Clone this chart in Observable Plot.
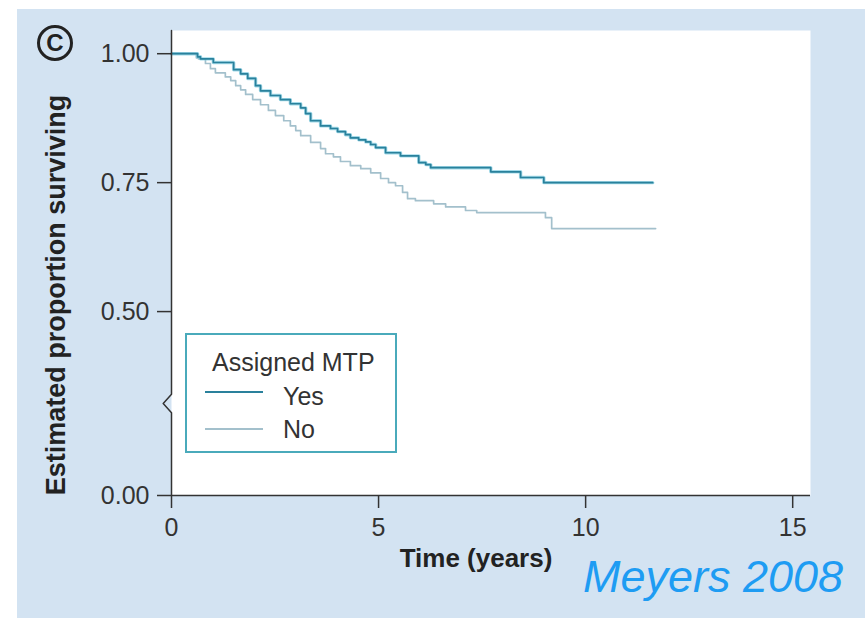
<!DOCTYPE html>
<html><head><meta charset="utf-8">
<script src="https://cdn.jsdelivr.net/npm/d3@7"></script>
<script src="https://cdn.jsdelivr.net/npm/@observablehq/plot@0.6"></script>
<style>
body{margin:0;background:#fff;font-family:"Liberation Sans",Arial,Helvetica,sans-serif;}
#wrap{position:absolute;left:17px;top:9px;width:848px;height:609px;background:#d3e3f2;overflow:hidden;}
#chart{position:absolute;left:0;top:0;}
#badge{position:absolute;left:20px;top:16px;width:30px;height:30px;border:3px solid #222;border-radius:50%;
  font-weight:bold;font-size:24px;line-height:30px;text-align:center;color:#222;}
#legend{position:absolute;left:168px;top:324px;width:212px;height:120px;box-sizing:border-box;border:2px solid #4aaabb;background:#fff;color:#333;font-size:25px;}
#legend .t{position:absolute;white-space:nowrap;line-height:25px;}
#legend .sw{position:absolute;height:0;width:58px;}
#credit{position:absolute;left:566px;top:545px;font-size:45px;line-height:45px;font-style:italic;color:#1e9cf3;white-space:nowrap;}
</style></head><body>
<div id="wrap">
  <div id="chart"></div>
  <div id="badge">C</div>
  <div id="legend"></div>
  <div id="credit"></div>
</div>
<script>
// ---- data ----
const seriesNames = ["Yes", "No"];
const legendTitle = "Assigned MTP";
const yesTime = [0, 0.63, 0.70, 1.01, 1.50, 1.67, 1.84, 2.03, 2.15, 2.39, 2.63, 2.87, 3.12, 3.24, 3.36, 3.60, 3.84, 4.01, 4.20, 4.32, 4.52, 4.69, 4.81, 4.93, 5.17, 5.53, 5.97, 6.14, 6.26, 7.71, 8.43, 8.99, 11.62];
const yesSurv = [1.000, 0.994, 0.990, 0.983, 0.969, 0.961, 0.952, 0.938, 0.928, 0.919, 0.911, 0.903, 0.895, 0.884, 0.870, 0.860, 0.855, 0.849, 0.843, 0.837, 0.833, 0.829, 0.824, 0.818, 0.808, 0.802, 0.789, 0.785, 0.779, 0.771, 0.760, 0.750, 0.750];
const noTime = [0, 0.60, 0.65, 0.82, 0.94, 1.06, 1.30, 1.43, 1.55, 1.67, 1.79, 1.96, 2.15, 2.34, 2.51, 2.71, 2.87, 3.00, 3.12, 3.36, 3.60, 3.72, 3.91, 4.08, 4.32, 4.57, 4.81, 5.05, 5.24, 5.41, 5.58, 5.70, 5.89, 6.33, 6.62, 7.10, 7.37, 9.03, 9.18, 11.69];
const noSurv = [1.000, 0.992, 0.990, 0.981, 0.971, 0.963, 0.955, 0.948, 0.938, 0.930, 0.921, 0.911, 0.901, 0.890, 0.880, 0.870, 0.860, 0.851, 0.841, 0.828, 0.816, 0.806, 0.800, 0.791, 0.783, 0.777, 0.769, 0.758, 0.750, 0.744, 0.731, 0.719, 0.715, 0.709, 0.703, 0.696, 0.692, 0.682, 0.661, 0.661];
const xTicks = [0, 5, 10, 15];
const yTicks = [0, 0.5, 0.75, 1];
const xTitle = "Time (years)";
const yTitle = "Estimated proportion surviving";
const credit = "Meyers 2008";

const yesRows = yesTime.map((t, i) => ({group: seriesNames[0], time: t, surv: yesSurv[i]}));
const noRows = noTime.map((t, i) => ({group: seriesNames[1], time: t, surv: noSurv[i]}));
// broken axis: the 0–0.5 band is compressed
const breakAt = 0.5, squeeze = 184 / 258;
const yBreak = v => v <= breakAt ? v * squeeze : breakAt * squeeze + (v - breakAt);
const yUnbreak = u => u <= breakAt * squeeze ? u / squeeze : u - breakAt * squeeze + breakAt;
const yAxisPath = [
  {x: 0, y: 1.045}, {x: 0, y: 0.275}, {x: -0.2, y: 0.25}, {x: 0, y: 0.225}, {x: 0, y: 0}
];
const yesColor = "#2a819c", yesGlow = "#7ccbe0", noColor = "#a3c0cc";
const font = '"Liberation Sans", Arial, Helvetica, sans-serif';
const fmt2 = d3.format(".2f");

const chart = Plot.plot({
  width: 848, height: 609,
  marginLeft: 154, marginRight: 55, marginTop: 21, marginBottom: 123,
  style: {background: "transparent", fontFamily: font, color: "#333", overflow: "visible"},
  x: {domain: [0, 15.43]},
  y: {transform: yBreak},
  marks: [
    Plot.frame({fill: "white", stroke: null}),
    Plot.line(noRows, {x: "time", y: "surv", curve: "step-after", stroke: noColor, strokeWidth: 1.7}),
    Plot.line(yesRows, {x: "time", y: "surv", curve: "step-after", stroke: yesGlow, strokeWidth: 3.4, strokeOpacity: 0.7}),
    Plot.line(yesRows, {x: "time", y: "surv", curve: "step-after", stroke: yesColor, strokeWidth: 1.7}),
    Plot.ruleY([0], {stroke: "#333", strokeWidth: 1.5}),
    Plot.line(yAxisPath, {x: "x", y: "y", stroke: "#333", strokeWidth: 1.5}),
    Plot.axisY({ticks: yTicks.map(yBreak), tickFormat: u => fmt2(yUnbreak(u)), tickSize: 14, tickPadding: 8, fontSize: 25, label: null, strokeWidth: 1.5}),
    Plot.axisX({ticks: xTicks, tickFormat: d3.format("d"), tickSize: 13, tickPadding: 10, fontSize: 25, label: null, strokeWidth: 1.5}),
    Plot.text([xTitle], {frameAnchor: "bottom", dy: 71, dx: -15, fontSize: 26, fontWeight: "bold", fill: "#222"}),
    Plot.text([yTitle], {frameAnchor: "left", textAnchor: "middle", rotate: -90, dx: -115, dy: 32, fontSize: 27, fontWeight: "bold", fill: "#222"})
  ]
});
document.getElementById("chart").appendChild(chart);

// legend
const lg = document.getElementById("legend");
const title = document.createElement("div");
title.className = "t"; title.textContent = legendTitle;
title.style.left = "25px"; title.style.top = "15px";
lg.appendChild(title);
const swColors = [yesColor, noColor];
const swY = [56, 93];
const txY = [49, 82];
seriesNames.forEach((name, i) => {
  const sw = document.createElement("div");
  sw.className = "sw";
  sw.style.left = "18px"; sw.style.top = swY[i] + "px";
  sw.style.borderTop = "2px solid " + swColors[i];
  lg.appendChild(sw);
  const t = document.createElement("div");
  t.className = "t"; t.textContent = name;
  t.style.left = "96px"; t.style.top = txY[i] + "px";
  lg.appendChild(t);
});
document.getElementById("credit").textContent = credit;
</script>
</body></html>
